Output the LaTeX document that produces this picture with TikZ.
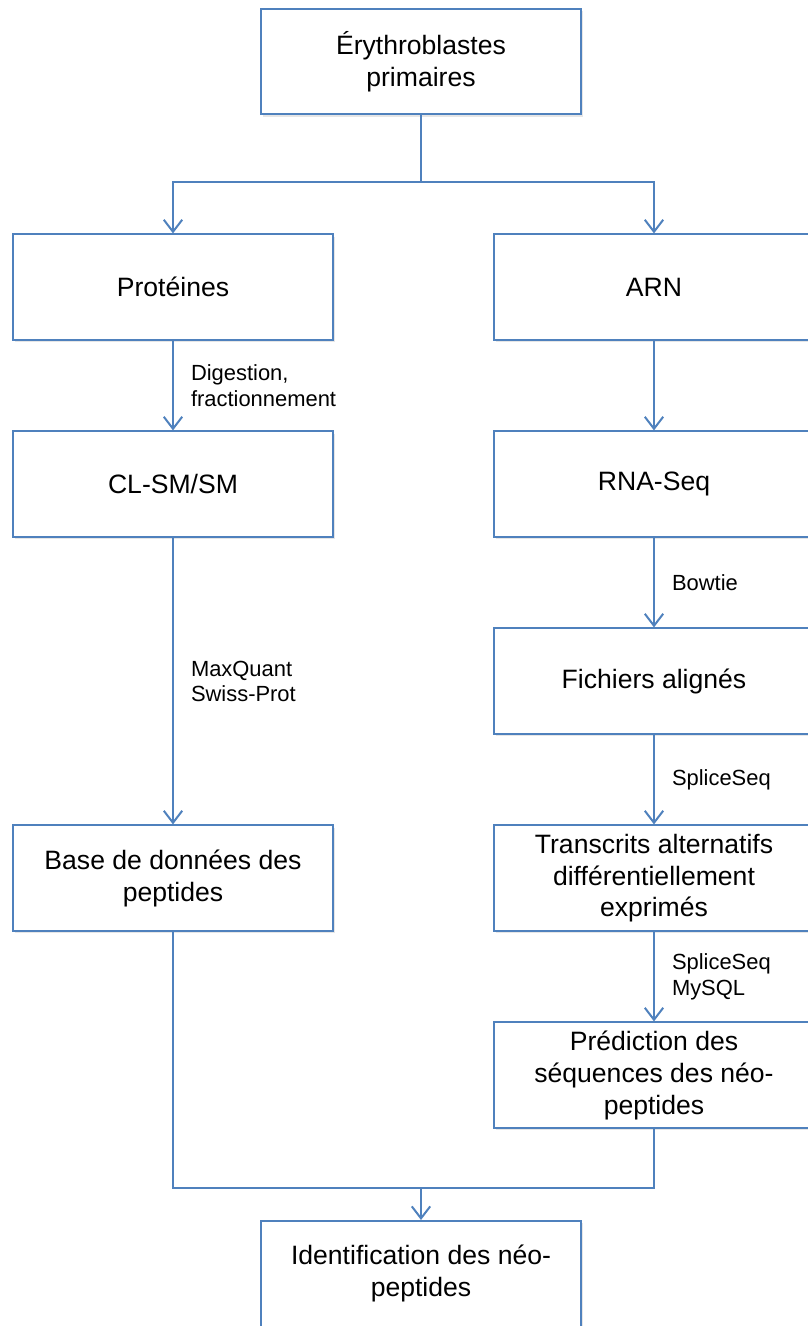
\documentclass[tikz,border=0pt]{standalone}
\usepackage{fontspec}
\setmainfont{Liberation Sans}
\usetikzlibrary{arrows.meta,positioning,shadows}
\definecolor{boxblue}{HTML}{4F81BD}
\tikzset{
  box/.style  = {rectangle, draw=boxblue, line width=0.5mm, fill=white, align=center,
                 font=\fontsize{18.9}{22.7}\selectfont, inner sep=1mm,
                 minimum width=80mm, minimum height=26.4mm,
                 drop shadow={shadow xshift=0.6mm, shadow yshift=-0.6mm, opacity=0.2}},
  link/.style = {draw=boxblue, line width=0.5mm},
  flow/.style = {link, -{Straight Barb[length=3mm, width=4.6mm]}},
  lbl/.style  = {right, inner sep=0pt, xshift=4.25mm, align=left,
                 font=\fontsize{15.6}{18}\selectfont},
}

\begin{document}
\begin{tikzpicture}[node distance=22.35mm]
  \useasboundingbox (0,0) rectangle (202mm,-331.5mm);
  \clip (0,0) rectangle (202mm,-331.5mm);

  \node[box] (ery) at (105.25mm,-15.4mm) {Érythroblastes\\primaires};
  \node[box, below=29.5mm of ery, xshift=-62mm] (prot) {Protéines};
  \node[box, below=29.5mm of ery, xshift=58.25mm] (arn) {ARN};
  \node[box, below=of prot] (cl) {CL-SM/SM};
  \node[box, below=of arn] (rna) {RNA-Seq};
  \node[box, below=of rna] (fich) {Fichiers alignés};
  \node[box, below=of fich] (trans) {Transcrits alternatifs\\différentiellement\\exprimés};
  \node[box] (base) at (cl |- trans) {Base de données des\\peptides};
  \node[box, below=of trans] (pred) {Prédiction des\\séquences des néo-\\peptides};
  \path (pred.south -| ery.south) ++(0,-14.75mm) coordinate (join);
  \node[box, below=8mm of join] (ident) {Identification des néo-\\peptides};

  \draw[link] (ery.south) -- ++(0,-16.75mm) coordinate (split);
  \draw[flow] (split) -| (prot.north);
  \draw[flow] (split) -| (arn.north);
  \draw[flow] (prot) -- node[lbl]{Digestion,\\fractionnement} (cl);
  \draw[flow] (cl) -- node[lbl]{MaxQuant\\Swiss-Prot} (base);
  \draw[flow] (arn) -- (rna);
  \draw[flow] (rna) -- node[lbl]{Bowtie} (fich);
  \draw[flow] (fich) -- node[lbl]{SpliceSeq} (trans);
  \draw[flow] (trans) -- node[lbl]{SpliceSeq\\MySQL} (pred);
  \draw[link] (base.south) |- (join) -| (pred.south);
  \draw[flow] (join) -- (ident);
\end{tikzpicture}
\end{document}
